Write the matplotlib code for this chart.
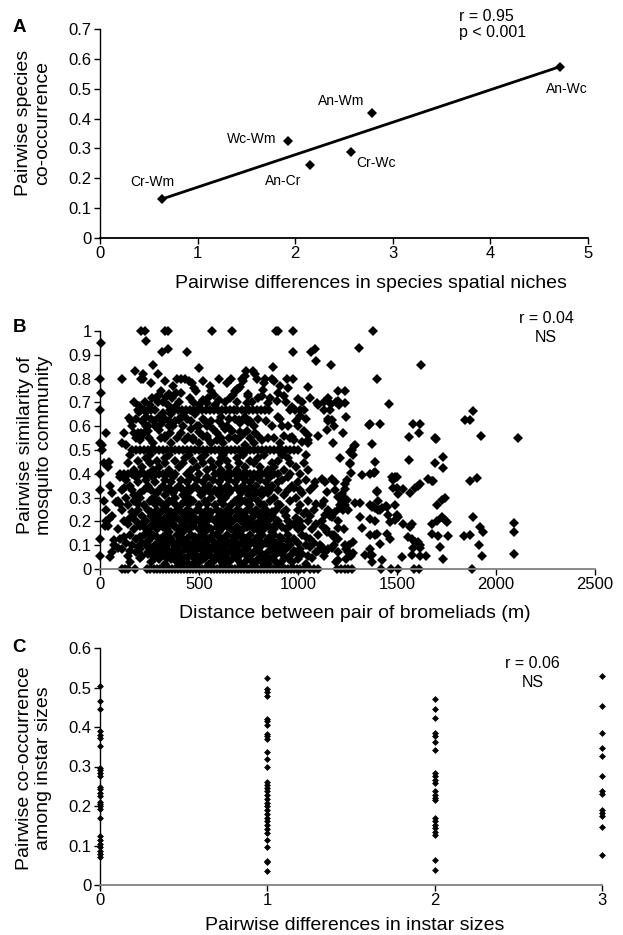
import numpy as np
import matplotlib.pyplot as plt
from matplotlib.ticker import FuncFormatter

plt.rcParams['font.family'] = ['Liberation Sans', 'DejaVu Sans']

# ---------------- panel A: species pairs ----------------
pair_names = ['Cr-Wm', 'Wc-Wm', 'An-Cr', 'Cr-Wc', 'An-Wm', 'An-Wc']
niche_diff = [0.64, 1.93, 2.15, 2.57, 2.79, 4.71]
cooccur = [0.130, 0.325, 0.243, 0.289, 0.417, 0.573]
# label anchor (data coords) for each pair name
name_x = [0.54, 1.55, 1.88, 2.83, 2.47, 4.78]
name_y = [0.186, 0.332, 0.192, 0.251, 0.458, 0.499]

# ---------------- panel B: bromeliad pairs ----------------
# pairs that share a common similarity value: distances (m) on each level
b_lvl_000 = [110, 125, 140, 175, 235, 255, 275, 290, 305, 320, 335, 350, 365, 380, 395, 410,
             425, 440, 455, 470, 485, 500, 515, 530, 545, 560, 575, 590, 605, 620, 635, 650,
             665, 680, 695, 710, 725, 740, 755, 770, 785, 800, 815, 830, 845, 860, 875, 890,
             905, 920, 935, 950, 965, 980, 995, 1010, 1030, 1060, 1080, 1100, 1195, 1215,
             1235, 1255, 1275, 1420, 1470, 1505, 1585, 1610, 1880]
b_lvl_050 = [10, 160, 180, 200, 220, 240, 260, 280, 300, 320, 340, 360, 380, 400, 420, 440,
             460, 480, 500, 520, 540, 560, 580, 600, 620, 640, 660, 680, 700, 720, 740, 760,
             780, 800, 820, 840, 860, 880, 900, 920, 940, 960, 980, 1000]
b_lvl_067 = [0, 190, 205, 220, 240, 260, 280, 355, 375, 395, 415, 435, 455, 475, 495, 515,
             535, 555, 575, 595, 615, 635, 655, 675, 690, 715, 735, 755, 775, 795, 815, 835,
             855, 960, 985, 1010, 1030, 1130, 1160]
b_lvl_040 = [0, 100, 120, 140, 160, 180, 200, 220, 240, 260, 280, 300, 320, 340, 360, 380,
             440, 500, 580, 600, 620, 640, 660, 680, 700, 720, 740, 760, 780, 800, 820, 840,
             860, 880, 900, 960, 1010]
b_lvl_033 = [0, 110, 160, 220, 260, 300, 340, 380, 420, 460, 500, 540, 580, 620, 660, 700,
             740, 780, 820, 860, 900, 950, 1010, 1060]
b_lvl_025 = [30, 110, 190, 240, 290, 340, 390, 440, 490, 540, 590, 640, 690, 740, 790, 840,
             890, 940, 1000, 1080, 1150]
b_lvl_020 = [30, 120, 180, 230, 280, 320, 360, 410, 450, 500, 540, 580, 620, 670, 710, 760,
             810, 850, 900, 950, 1010, 1050, 1120, 1200]
b_lvl_017 = [90, 170, 230, 290, 340, 400, 450, 500, 560, 610, 660, 720, 780, 830, 880, 940,
             1000, 1070, 1140, 1230]
b_lvl_014 = [150, 220, 270, 330, 390, 460, 510, 570, 640, 700, 760, 820, 880, 950, 1020,
             1100, 1180]
b_lvl_0125 = [0, 100, 180, 250, 310, 360, 440, 490, 550, 620, 680, 730, 790, 850, 920, 980,
              1060, 1200]
b_lvl_011 = [130, 210, 300, 370, 420, 470, 520, 600, 660, 710, 780, 840, 890, 1000, 1080]
b_lvl_010 = [70, 160, 230, 280, 340, 400, 450, 500, 540, 580, 630, 690, 750, 820, 860, 910,
             960, 1040, 1110, 1180, 1260]
b_lvl_008 = [110, 200, 260, 320, 380, 430, 490, 560, 610, 670, 740, 800, 870, 940, 1010,
             1150, 1240]
b_lvl_007 = [60, 180, 240, 300, 350, 410, 470, 540, 590, 650, 720, 780, 850, 900, 990, 1090,
             1200]
b_lvl_006 = [0, 140, 210, 270, 330, 390, 450, 510, 560, 620, 700, 740, 830, 880, 960, 1050,
             1130, 1270]
b_lvl_004 = [300, 360, 420, 480, 520, 600, 640, 690, 760, 800, 860, 930, 1000, 1240]
b_lvl_015 = [240, 350, 420, 530, 600, 690, 810, 870]
b_lvl_018 = [40, 200, 260, 380, 470, 540, 640, 750, 850, 960]
b_lvl_021 = [150, 300, 390, 480, 560, 650, 740, 820, 880, 990]
b_lvl_022 = [60, 210, 260, 340, 430, 520, 600, 690, 780, 840, 940, 1060, 1160]
b_lvl_023 = [170, 280, 370, 460, 550, 630, 720, 800, 870, 1030]
b_lvl_027 = [140, 220, 320, 410, 500, 580, 660, 760, 830, 910, 1010]
b_lvl_029 = [20, 90, 170, 250, 300, 350, 430, 470, 530, 610, 680, 730, 800, 860, 960, 1050,
             1130]
b_lvl_030 = [130, 200, 270, 380, 450, 560, 630, 700, 770, 880, 990]
b_lvl_031 = [170, 330, 420, 510, 600, 750, 820, 930]
b_lvl_035 = [50, 150, 240, 320, 400, 480, 550, 640, 720, 790, 870, 970, 1080]
b_lvl_036 = [190, 280, 360, 440, 520, 600, 680, 760, 840, 900, 1000]
b_lvl_0375 = [130, 230, 330, 410, 490, 570, 650, 730, 810, 920, 1040]
b_lvl_042 = [170, 270, 350, 460, 540, 610, 690, 850, 930, 1050]
b_lvl_043 = [40, 210, 300, 400, 490, 570, 650, 730, 810, 880, 990]
b_lvl_044 = [20, 140, 250, 330, 420, 520, 600, 700, 780, 870, 960, 1030]
b_lvl_045 = [190, 290, 380, 470, 560, 640, 760, 900]
b_lvl_047 = [230, 330, 430, 510, 610, 690, 800, 950]
b_lvl_002 = [330, 410, 470, 550, 620, 710, 780, 850, 910, 1040]
b_lvl_003 = [150, 260, 390, 440, 500, 570, 650, 730, 820, 890, 970, 1190]
b_lvl_0045 = [200, 280, 340, 430, 530, 580, 670, 750, 840, 950, 1070]
b_lvl_0063 = [240, 310, 370, 480, 540, 600, 680, 770, 820, 920, 1020]
b_lvl_0077 = [150, 290, 350, 450, 520, 630, 700, 790, 900, 980, 1100]
b_lvl_0091 = [190, 250, 310, 380, 470, 520, 610, 660, 730, 800, 880, 930, 1060]
b_lvl_0118 = [240, 330, 400, 490, 570, 640, 750, 810, 870, 950]
b_lvl_0133 = [120, 200, 290, 350, 410, 480, 530, 600, 670, 720, 800, 860, 910, 1040]
b_lvl_0176 = [260, 320, 380, 430, 530, 590, 690, 740, 800, 860, 920, 1020]
b_lvl_019 = [140, 210, 300, 350, 420, 470, 520, 600, 650, 730, 790, 830, 890, 980, 1090]
b_lvl_024 = [160, 260, 310, 360, 410, 460, 510, 560, 610, 660, 710, 770, 820, 870, 930, 1040]
b_lvl_0273 = [100, 190, 280, 340, 380, 450, 540, 620, 700, 750, 810, 900, 1090]
b_lvl_032 = [60, 200, 290, 370, 440, 520, 560, 650, 710, 790, 850, 1020]
b_lvl_034 = [120, 240, 350, 450, 530, 610, 690, 760, 850, 980]
b_lvl_0385 = [100, 180, 270, 370, 460, 540, 620, 700, 780, 860, 950]
b_lvl_048 = [150, 250, 350, 450, 530, 620, 720, 830, 920, 1040]
b_lvl_055 = [200, 330, 470, 540, 680, 850, 960]
b_lvl_060 = [230, 350, 490, 620, 780, 920]

b_levels = [0.0, 0.5, 0.667, 0.4, 0.333, 0.25, 0.2, 0.167, 0.143, 0.125, 0.111, 0.1, 0.083,
            0.071, 0.056, 0.04, 0.154, 0.182, 0.214, 0.222, 0.231, 0.267, 0.286, 0.3, 0.313,
            0.35, 0.364, 0.375, 0.417, 0.429, 0.444, 0.455, 0.467, 0.02, 0.03, 0.045, 0.063,
            0.077, 0.091, 0.118, 0.133, 0.176, 0.19, 0.24, 0.273, 0.32, 0.34, 0.385, 0.48,
            0.55, 0.6]
b_level_dists = [b_lvl_000, b_lvl_050, b_lvl_067, b_lvl_040, b_lvl_033, b_lvl_025, b_lvl_020,
                 b_lvl_017, b_lvl_014, b_lvl_0125, b_lvl_011, b_lvl_010, b_lvl_008, b_lvl_007,
                 b_lvl_006, b_lvl_004, b_lvl_015, b_lvl_018, b_lvl_021, b_lvl_022, b_lvl_023,
                 b_lvl_027, b_lvl_029, b_lvl_030, b_lvl_031, b_lvl_035, b_lvl_036, b_lvl_0375,
                 b_lvl_042, b_lvl_043, b_lvl_044, b_lvl_045, b_lvl_047, b_lvl_002, b_lvl_003,
                 b_lvl_0045, b_lvl_0063, b_lvl_0077, b_lvl_0091, b_lvl_0118, b_lvl_0133,
                 b_lvl_0176, b_lvl_019, b_lvl_024, b_lvl_0273, b_lvl_032, b_lvl_034, b_lvl_0385,
                 b_lvl_048, b_lvl_055, b_lvl_060]

# remaining pairs (distance m, similarity), by distance band
b_near = [(5, 0.95), (0, 0.8), (5, 0.74), (30, 0.573), (10, 0.52), (111, 0.80), (0, 0.531),
          (206, 1.0), (226, 1.0), (232, 0.96), (179, 0.832), (205, 0.8), (218, 0.8), (218, 0.82),
          (198, 0.685), (229, 0.70), (148, 0.636), (157, 0.622), (123, 0.573), (173, 0.573),
          (190, 0.573), (207, 0.573), (224, 0.573), (241, 0.58), (249, 0.552), (111, 0.531),
          (160, 0.60), (180, 0.55), (130, 0.52), (210, 0.62), (240, 0.60), (45, 0.45), (50, 0.05),
          (25, 0.18), (70, 0.12), (80, 0.28), (45, 0.21), (90, 0.09)]
b_mid = [(328, 1.0), (342, 1.0), (313, 0.913), (342, 0.926), (440, 0.913), (567, 1.0),
         (266, 0.857), (291, 0.818), (502, 0.843), (389, 0.8), (431, 0.8), (448, 0.79),
         (465, 0.78), (476, 0.762), (485, 0.748), (556, 0.77), (560, 0.75), (308, 0.748),
         (300, 0.73), (333, 0.723), (350, 0.737), (384, 0.741), (283, 0.717), (291, 0.70),
         (272, 0.62), (300, 0.64), (320, 0.655), (350, 0.62), (370, 0.60), (400, 0.625),
         (420, 0.60), (440, 0.63), (460, 0.59), (300, 0.585), (330, 0.56), (355, 0.57),
         (390, 0.55), (410, 0.57), (445, 0.555), (470, 0.54), (500, 0.575), (520, 0.56),
         (540, 0.60), (560, 0.62), (590, 0.57), (610, 0.55), (640, 0.60), (660, 0.585),
         (539, 0.698), (547, 0.719), (581, 0.69), (260, 0.63), (360, 0.65), (380, 0.68),
         (430, 0.66), (480, 0.65), (520, 0.63), (600, 0.62), (650, 0.63), (560, 0.53),
         (620, 0.53), (690, 0.54), (730, 0.52), (780, 0.53), (820, 0.54), (880, 0.55)]
b_upper = [(170, 0.70), (195, 0.66), (250, 0.69), (265, 0.72), (320, 0.70), (345, 0.69),
           (365, 0.72), (400, 0.70), (410, 0.74), (455, 0.72), (470, 0.70), (500, 0.69),
           (520, 0.71), (575, 0.73), (600, 0.71), (630, 0.70), (655, 0.72), (690, 0.70),
           (770, 0.70), (800, 0.72), (860, 0.72), (900, 0.74), (940, 0.70), (970, 0.68),
           (1020, 0.70), (1060, 0.72), (260, 0.78), (330, 0.79), (370, 0.77), (410, 0.80),
           (520, 0.79), (600, 0.80), (640, 0.78), (660, 0.80), (830, 0.78), (910, 0.77),
           (950, 0.76), (180, 0.63), (230, 0.64), (280, 0.60), (310, 0.61), (330, 0.63),
           (380, 0.62), (410, 0.64), (460, 0.62), (500, 0.60), (530, 0.62), (570, 0.59),
           (610, 0.64), (680, 0.63), (730, 0.64), (760, 0.62), (800, 0.63), (840, 0.62),
           (870, 0.60), (910, 0.63), (990, 0.62), (1040, 0.63), (200, 0.54), (270, 0.53),
           (310, 0.55), (360, 0.53), (430, 0.54), (500, 0.53), (540, 0.56), (590, 0.54),
           (650, 0.55), (710, 0.56), (760, 0.55), (800, 0.56), (910, 0.53), (980, 0.54),
           (1050, 0.53)]
b_far = [(667, 1.0), (887, 1.0), (897, 1.0), (977, 1.0), (1378, 1.0), (673, 0.729),
         (699, 0.757), (704, 0.626), (707, 0.612), (724, 0.79), (732, 0.811), (783, 0.818),
         (791, 0.797), (749, 0.725), (741, 0.697), (976, 0.91), (1065, 0.91), (1086, 0.924),
         (1089, 0.874), (1166, 0.857), (1310, 0.93), (735, 0.832), (774, 0.832), (872, 0.847),
         (719, 0.8), (833, 0.8), (867, 0.8), (880, 0.79), (943, 0.8), (976, 0.8), (707, 0.766),
         (690, 0.756), (825, 0.752), (1052, 0.766), (745, 0.735), (681, 0.748), (931, 0.728),
         (820, 0.727), (998, 0.714), (850, 0.696), (892, 0.706), (1094, 0.696), (1153, 0.72),
         (1204, 0.748), (1237, 0.748), (1166, 0.692), (1204, 0.706), (1207, 0.689),
         (1237, 0.696), (900, 0.64), (1010, 0.644), (1153, 0.63), (1240, 0.637), (707, 0.616),
         (749, 0.616), (631, 0.59), (665, 0.58), (707, 0.577), (723, 0.566), (740, 0.58),
         (782, 0.57), (968, 0.556), (1018, 0.535), (1052, 0.563), (1052, 0.542), (1145, 0.584),
         (1173, 0.626), (1229, 0.57), (930, 0.56), (950, 0.60), (1000, 0.60), (1030, 0.58),
         (1100, 0.69), (1130, 0.70), (1190, 0.70), (1150, 0.62), (1180, 0.60), (1100, 0.56)]
b_outer = [(1358, 0.607), (1178, 0.528), (1288, 0.521), (1372, 0.524), (1401, 0.797),
           (1462, 0.695), (1414, 0.61), (1364, 0.608), (1620, 0.857), (1583, 0.61), (1617, 0.61),
           (1612, 0.57), (1563, 0.553), (1692, 0.549), (1697, 0.546), (1844, 0.626),
           (1869, 0.626), (1883, 0.664), (1925, 0.558), (2113, 0.549), (1212, 0.468),
           (1263, 0.444), (1271, 0.50), (1321, 0.395), (1086, 0.364), (1119, 0.38), (1136, 0.364),
           (1170, 0.38), (1187, 0.364), (1145, 0.325), (1187, 0.332), (1204, 0.304),
           (1220, 0.283), (1237, 0.269), (1212, 0.255), (1187, 0.241), (1119, 0.269),
           (1136, 0.227), (1170, 0.22), (1313, 0.22), (1321, 0.171), (1372, 0.262),
           (1128, 0.178), (1145, 0.157), (1170, 0.143), (1187, 0.129), (1204, 0.171),
           (1237, 0.101), (1254, 0.073), (1279, 0.066), (1338, 0.059), (1279, 0.115),
           (1119, 0.094), (1136, 0.073), (1170, 0.087), (1204, 0.038), (1372, 0.059),
           (1283, 0.517), (1263, 0.493), (1276, 0.479), (1263, 0.441), (1364, 0.399),
           (1389, 0.409), (1473, 0.388), (1490, 0.388), (1481, 0.376), (1266, 0.402),
           (1249, 0.376), (1237, 0.359), (1237, 0.338), (1220, 0.317), (1229, 0.303),
           (1246, 0.289), (1212, 0.269), (1229, 0.248), (1254, 0.248), (1288, 0.279),
           (1313, 0.279), (1389, 0.255), (1406, 0.248), (1423, 0.255), (1448, 0.262),
           (1498, 0.227), (1490, 0.206), (1397, 0.324)]
b_tail = [(1389, 0.451), (1563, 0.457), (1692, 0.444), (1731, 0.472), (1731, 0.423),
          (1384, 0.402), (1499, 0.387), (1659, 0.38), (1676, 0.37), (1684, 0.37), (1869, 0.37),
          (1903, 0.383), (1401, 0.328), (1482, 0.339), (1499, 0.339), (1532, 0.335),
          (1507, 0.314), (1566, 0.318), (1591, 0.339), (1608, 0.35), (1617, 0.356),
          (1364, 0.27), (1381, 0.263), (1406, 0.284), (1414, 0.249), (1445, 0.263),
          (1490, 0.27), (1701, 0.27), (1726, 0.291), (1743, 0.298), (1886, 0.219),
          (1364, 0.212), (1389, 0.2), (1457, 0.226), (1465, 0.198), (1507, 0.219),
          (1532, 0.191), (1566, 0.177), (1575, 0.191), (1676, 0.188), (1701, 0.2),
          (1726, 0.219), (1743, 0.205), (1751, 0.198), (1920, 0.177), (1936, 0.156),
          (2091, 0.195), (2091, 0.156), (1364, 0.142), (1389, 0.142), (1398, 0.149),
          (1448, 0.149), (1465, 0.128), (1414, 0.107), (1558, 0.135), (1575, 0.128),
          (1591, 0.114), (1608, 0.114), (1617, 0.1), (1676, 0.149), (1709, 0.139),
          (1760, 0.139), (1836, 0.139), (1869, 0.142), (1718, 0.093), (1916, 0.102),
          (1583, 0.09), (1617, 0.09), (1364, 0.083), (1364, 0.058), (1372, 0.03),
          (1423, 0.037), (1524, 0.051), (1575, 0.058), (1617, 0.055), (1647, 0.055),
          (1731, 0.041), (1928, 0.055), (2091, 0.062)]

# ---------------- panel C: instar sizes ----------------
instar_diff0 = [0.503, 0.467, 0.446, 0.389, 0.380, 0.372, 0.352, 0.296, 0.290, 0.283, 0.276,
                0.249, 0.243, 0.232, 0.226, 0.211, 0.205, 0.199, 0.192, 0.169, 0.123, 0.114,
                0.104, 0.096, 0.087, 0.079, 0.072]
instar_diff1 = [0.524, 0.496, 0.488, 0.479, 0.421, 0.414, 0.406, 0.382, 0.376, 0.370, 0.336,
                0.319, 0.300, 0.260, 0.252, 0.245, 0.237, 0.228, 0.218, 0.207, 0.199, 0.190,
                0.180, 0.169, 0.161, 0.152, 0.141, 0.131, 0.114, 0.096, 0.062, 0.057, 0.036]
instar_diff2 = [0.471, 0.446, 0.423, 0.386, 0.376, 0.363, 0.342, 0.283, 0.275, 0.265, 0.258,
                0.237, 0.228, 0.220, 0.214, 0.169, 0.161, 0.152, 0.144, 0.135, 0.127, 0.063,
                0.038]
instar_diff3 = [0.528, 0.452, 0.386, 0.347, 0.326, 0.277, 0.237, 0.231, 0.191, 0.182, 0.175,
                0.148, 0.076]


W, H = 623, 935
fig = plt.figure(figsize=(W / 100, H / 100), dpi=100)


def box(left, top, right, bottom):
    return [left / W, 1 - bottom / H, (right - left) / W, (bottom - top) / H]


fmt = FuncFormatter(lambda v, p: '%g' % round(v, 3))


def style(ax, bottom_color='black'):
    for s in ['top', 'right']:
        ax.spines[s].set_visible(False)
    ax.spines['left'].set_linewidth(1.0)
    ax.spines['bottom'].set_linewidth(1.3)
    ax.spines['bottom'].set_color(bottom_color)
    ax.tick_params(direction='out', length=4, width=1, labelsize=12, pad=2)
    ax.xaxis.set_major_formatter(fmt)
    ax.yaxis.set_major_formatter(fmt)


# panel A
axA = fig.add_axes(box(100, 29, 588, 238))
style(axA)
axA.plot(niche_diff, cooccur, 'D', color='black', ms=5, mew=0, clip_on=False)
slope, icpt = np.polyfit(niche_diff, cooccur, 1)
xfit = np.array([min(niche_diff), max(niche_diff)])
axA.plot(xfit, slope * xfit + icpt, color='black', lw=2)
for nm, tx, ty in zip(pair_names, name_x, name_y):
    axA.text(tx, ty, nm, fontsize=10, ha='center', va='center')
axA.text(3.68, 0.742, 'r = 0.95', fontsize=11.5, ha='left', va='center')
axA.text(3.68, 0.687, 'p < 0.001', fontsize=11.5, ha='left', va='center')
axA.set_xlim(0, 5)
axA.set_ylim(0, 0.7)
axA.set_xticks(range(6))
axA.set_yticks(np.arange(0, 0.71, 0.1))

# panel B
axB = fig.add_axes(box(100, 331, 595, 569))
style(axB, '#808080')
bx, by = [], []
for lvl, dists in zip(b_levels, b_level_dists):
    bx += dists
    by += [lvl] * len(dists)
for grp in [b_near, b_mid, b_upper, b_far, b_outer, b_tail]:
    bx += [p[0] for p in grp]
    by += [p[1] for p in grp]
axB.plot(bx, by, 'D', color='black', ms=4.6, mew=0, clip_on=False)
axB.text(2253, 1.052, 'r = 0.04', fontsize=11.5, ha='center', va='center')
axB.text(2253, 0.972, 'NS', fontsize=11.5, ha='center', va='center')
axB.set_xlim(0, 2500)
axB.set_ylim(0, 1)
axB.set_xticks(range(0, 2501, 500))
axB.set_yticks(np.arange(0, 1.01, 0.1))

# panel C
axC = fig.add_axes(box(100, 648, 602, 885))
style(axC, '#808080')
for k, col in enumerate([instar_diff0, instar_diff1, instar_diff2, instar_diff3]):
    axC.plot([k] * len(col), col, 'D', color='black', ms=3.5, mew=0, clip_on=False)
axC.text(2.585, 0.561, 'r = 0.06', fontsize=11.5, ha='center', va='center')
axC.text(2.585, 0.513, 'NS', fontsize=11.5, ha='center', va='center')
axC.set_xlim(0, 3)
axC.set_ylim(0, 0.6)
axC.set_xticks(range(4))
axC.set_yticks(np.arange(0, 0.61, 0.1))


# axis titles and panel letters (pixel positions)
def ftext(px, py, s, **kw):
    fig.text(px / W, 1 - py / H, s, **kw)


ftext(371, 283, 'Pairwise differences in species spatial niches', fontsize=14,
      ha='center', va='center')
ftext(355, 613, 'Distance between pair of bromeliads (m)', fontsize=14,
      ha='center', va='center')
ftext(355, 925, 'Pairwise differences in instar sizes', fontsize=14,
      ha='center', va='center')
ftext(33, 123, 'Pairwise species\nco-occurrence', fontsize=14, rotation=90,
      ha='center', va='center', multialignment='center', linespacing=1.15)
ftext(35, 445, 'Pairwise similarity of\nmosquito community', fontsize=14, rotation=90,
      ha='center', va='center', multialignment='center', linespacing=1.15)
ftext(34, 768, 'Pairwise co-occurrence\namong instar sizes', fontsize=14, rotation=90,
      ha='center', va='center', multialignment='center', linespacing=1.15)
for letter, py in [('A', 27), ('B', 328), ('C', 647)]:
    ftext(19, py, letter, fontsize=13.5, fontweight='bold', ha='center', va='center')

fig.savefig('out.png', dpi=100)
